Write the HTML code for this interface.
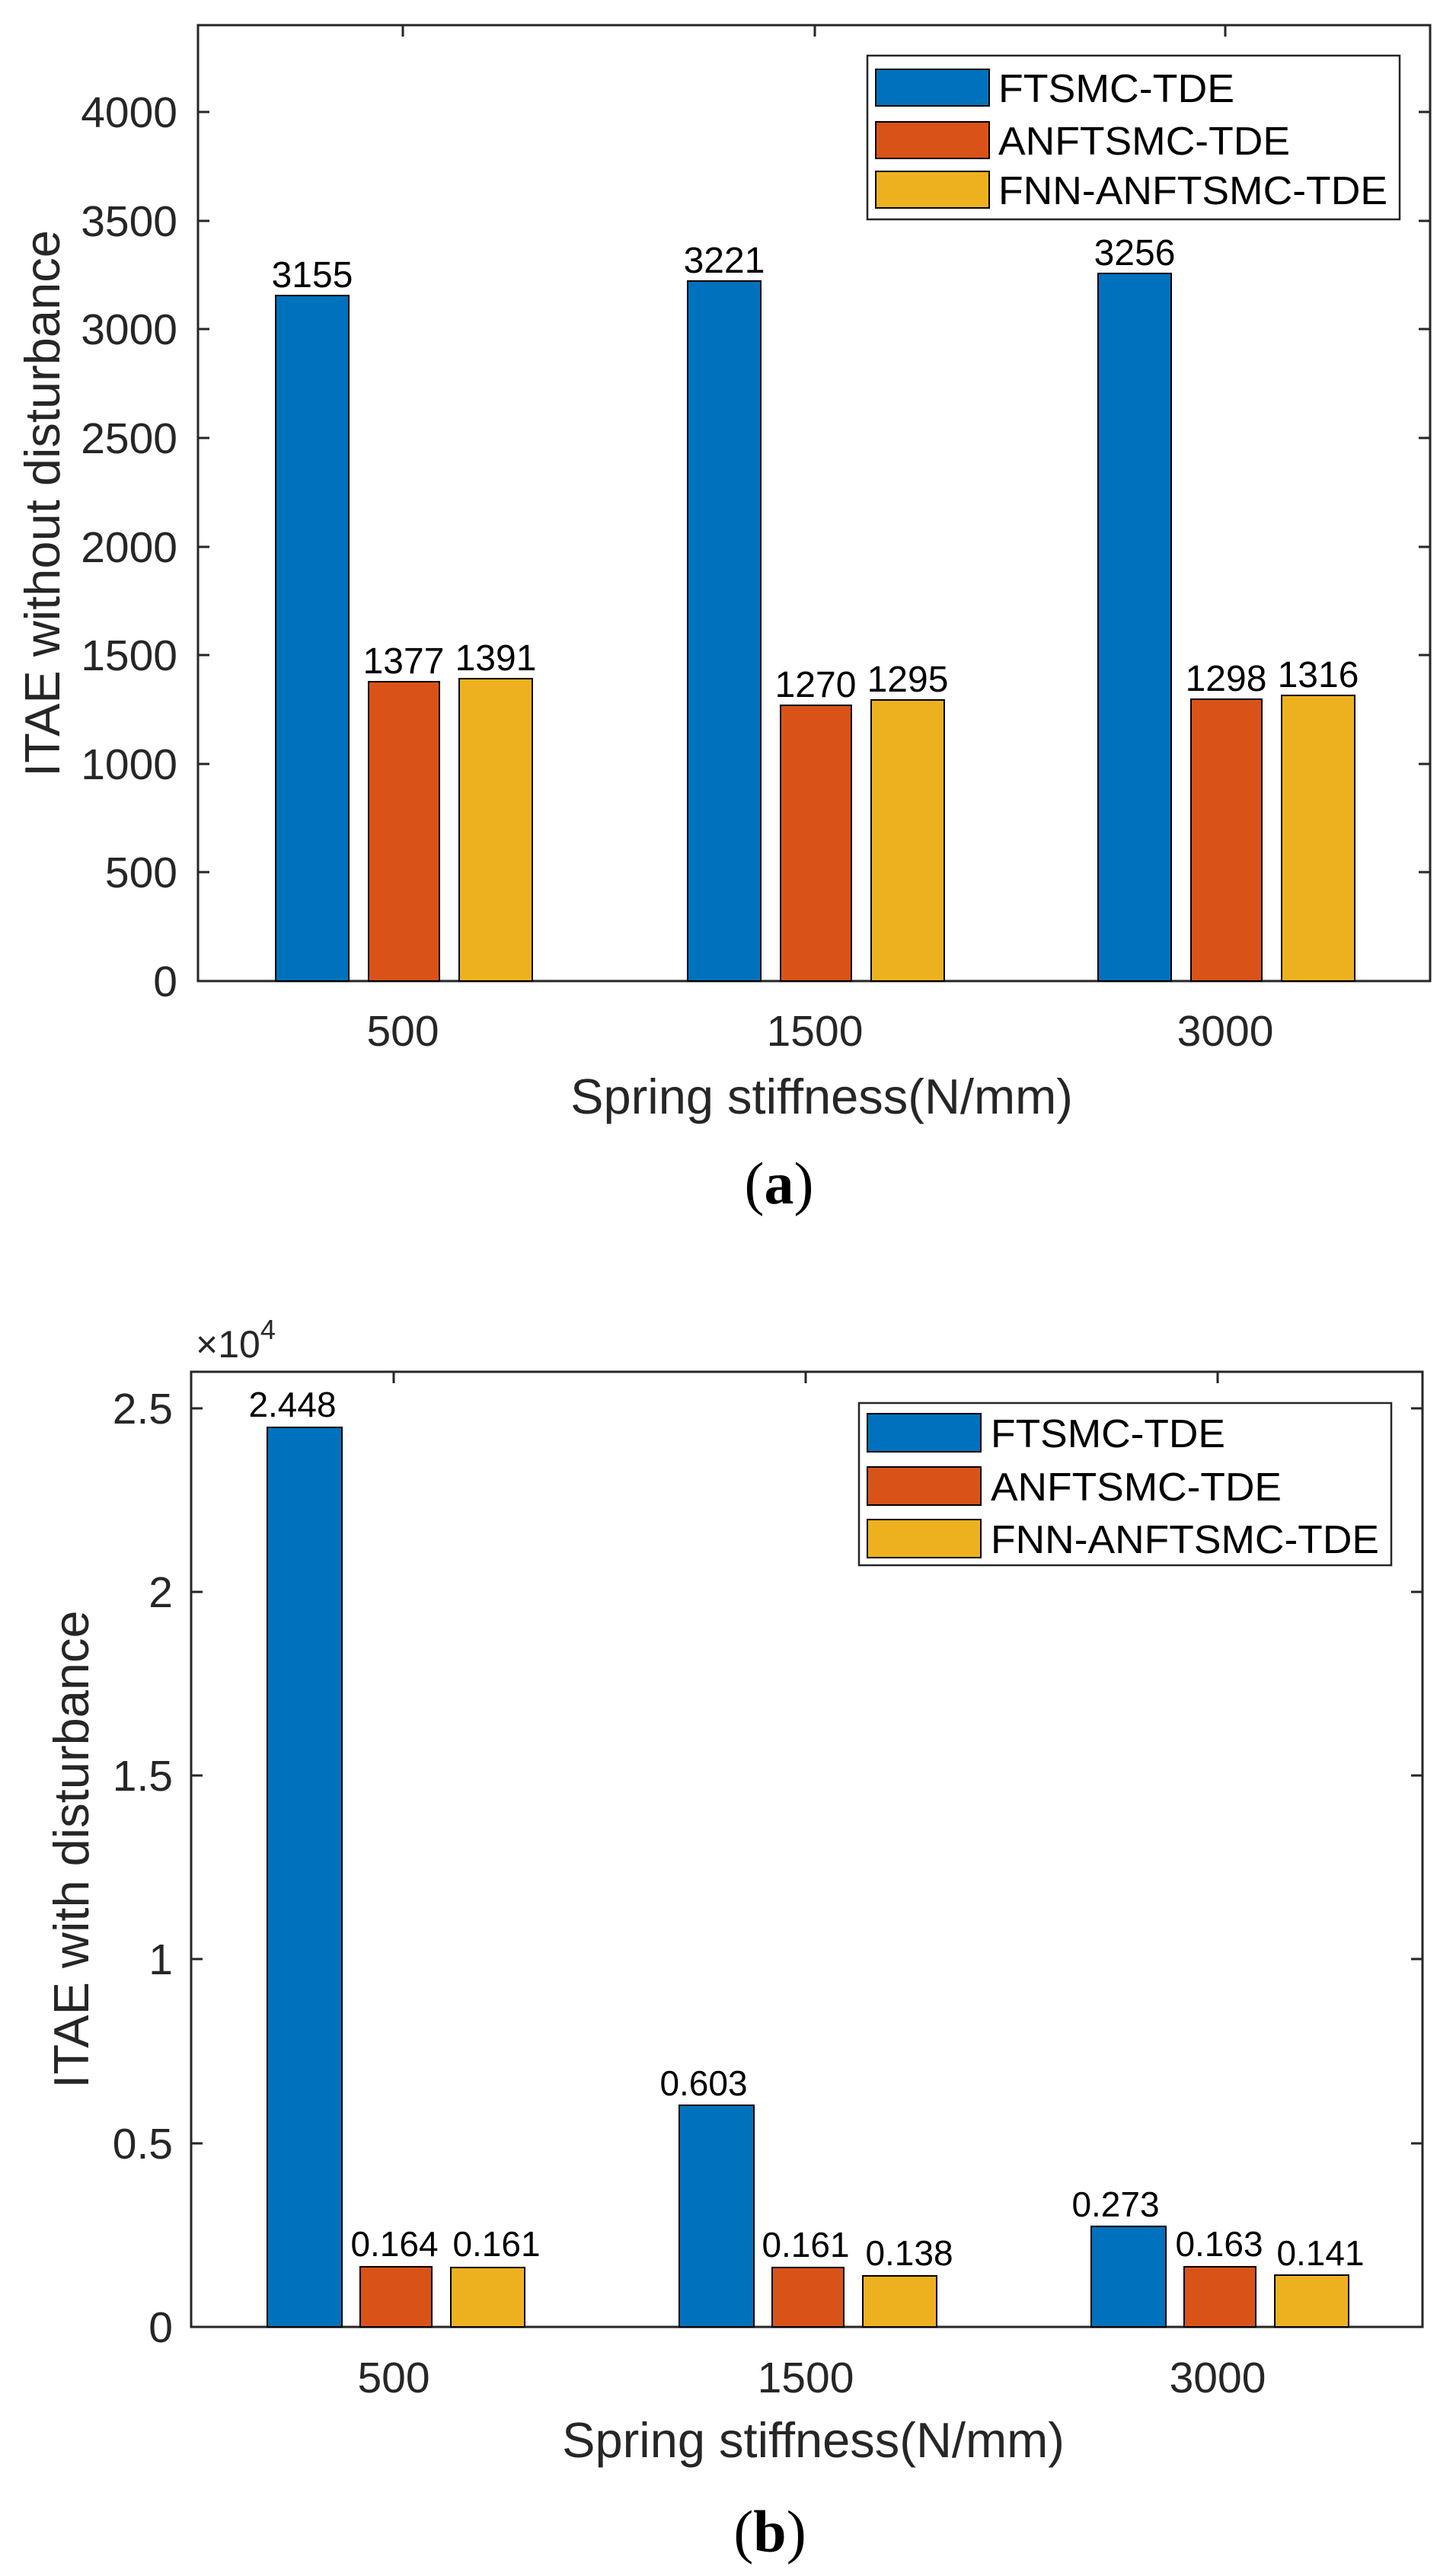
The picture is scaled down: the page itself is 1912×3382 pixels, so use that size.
<!DOCTYPE html>
<html><head><meta charset="utf-8"><style>
html,body{margin:0;padding:0;background:#fff;}
svg{display:block;font-family:"Liberation Sans",Arial,sans-serif;}
</style></head><body>
<svg width="1912" height="3382" viewBox="0 0 1912 3382" xmlns="http://www.w3.org/2000/svg">
<rect width="1912" height="3382" fill="#fff"/>
<!-- ===== (a) ===== -->
<g stroke="#262626" stroke-width="3" fill="none">
<rect x="260" y="33" width="1618" height="1255"/>
<path d="M260 1288h15M260 1145h15M260 1003h15M260 860h15M260 718h15M260 575h15M260 432h15M260 290h15M260 147h15
M1878 1288h-15M1878 1145h-15M1878 1003h-15M1878 860h-15M1878 718h-15M1878 575h-15M1878 432h-15M1878 290h-15M1878 147h-15
M529 1288v-15M1070 1288v-15M1609 1288v-15M529 33v15M1070 33v15M1609 33v15"/>
</g>
<g stroke="#000" stroke-width="2">
<rect x="362" y="388" width="96" height="900" fill="#0072BD"/>
<rect x="484" y="895" width="93" height="393" fill="#D95319"/>
<rect x="603" y="891" width="96" height="397" fill="#EDB120"/>
<rect x="903" y="369" width="96" height="919" fill="#0072BD"/>
<rect x="1025" y="926" width="93" height="362" fill="#D95319"/>
<rect x="1144" y="919" width="96" height="369" fill="#EDB120"/>
<rect x="1442" y="359" width="96" height="929" fill="#0072BD"/>
<rect x="1564" y="918" width="93" height="370" fill="#D95319"/>
<rect x="1683" y="913" width="96" height="375" fill="#EDB120"/>
</g>
<g font-size="48" fill="#000" text-anchor="middle">
<text x="410" y="377">3155</text>
<text x="530" y="884">1377</text>
<text x="651" y="880">1391</text>
<text x="951" y="358">3221</text>
<text x="1071" y="915">1270</text>
<text x="1192" y="908">1295</text>
<text x="1490" y="348">3256</text>
<text x="1610" y="907">1298</text>
<text x="1731" y="902">1316</text>
</g>
<g font-size="57" fill="#262626" text-anchor="end">
<text x="233" y="1308">0</text>
<text x="233" y="1165">500</text>
<text x="233" y="1023">1000</text>
<text x="233" y="880">1500</text>
<text x="233" y="738">2000</text>
<text x="233" y="595">2500</text>
<text x="233" y="452">3000</text>
<text x="233" y="310">3500</text>
<text x="233" y="167">4000</text>
</g>
<g font-size="57" fill="#262626" text-anchor="middle">
<text x="529" y="1373">500</text>
<text x="1070" y="1373">1500</text>
<text x="1609" y="1373">3000</text>
</g>
<g font-size="65" fill="#262626" text-anchor="middle">
<text x="1079" y="1462">Spring stiffness(N/mm)</text>
<text transform="translate(78,661) rotate(-90)">ITAE without disturbance</text>
</g>
<text x="1023" y="1580" font-family="Liberation Serif,serif" font-size="78" text-anchor="middle" fill="#000">(<tspan font-weight="bold">a</tspan>)</text>
<!-- legend a -->
<rect x="1139" y="73" width="699" height="215" fill="#fff" stroke="#262626" stroke-width="2.5"/>
<g stroke="#000" stroke-width="2">
<rect x="1150" y="91" width="149" height="48" fill="#0072BD"/>
<rect x="1150" y="160" width="149" height="48" fill="#D95319"/>
<rect x="1150" y="225" width="149" height="48" fill="#EDB120"/>
</g>
<g font-size="52" fill="#000">
<text x="1311" y="134" textLength="310" lengthAdjust="spacingAndGlyphs">FTSMC-TDE</text>
<text x="1311" y="203" textLength="383" lengthAdjust="spacingAndGlyphs">ANFTSMC-TDE</text>
<text x="1311" y="268" textLength="511" lengthAdjust="spacingAndGlyphs">FNN-ANFTSMC-TDE</text>
</g>
<!-- ===== (b) ===== -->
<g stroke="#262626" stroke-width="3" fill="none">
<rect x="251" y="1801" width="1617" height="1254"/>
<path d="M251 3055h15M251 2814h15M251 2572h15M251 2331h15M251 2090h15M251 1849h15
M1868 3055h-15M1868 2814h-15M1868 2572h-15M1868 2331h-15M1868 2090h-15M1868 1849h-15
M517 3055v-15M1058 3055v-15M1599 3055v-15M517 1801v15M1058 1801v15M1599 1801v15"/>
</g>
<g stroke="#000" stroke-width="2">
<rect x="351" y="1874" width="98" height="1181" fill="#0072BD"/>
<rect x="473" y="2976" width="94" height="79" fill="#D95319"/>
<rect x="592" y="2977" width="97" height="78" fill="#EDB120"/>
<rect x="892" y="2764" width="98" height="291" fill="#0072BD"/>
<rect x="1014" y="2977" width="94" height="78" fill="#D95319"/>
<rect x="1133" y="2988" width="97" height="67" fill="#EDB120"/>
<rect x="1433" y="2923" width="98" height="132" fill="#0072BD"/>
<rect x="1555" y="2976" width="94" height="79" fill="#D95319"/>
<rect x="1674" y="2987" width="97" height="68" fill="#EDB120"/>
</g>
<g font-size="46" fill="#000" text-anchor="middle">
<text x="384" y="1860">2.448</text>
<text x="518" y="2962">0.164</text>
<text x="652" y="2962">0.161</text>
<text x="924" y="2751">0.603</text>
<text x="1058" y="2963">0.161</text>
<text x="1194" y="2974">0.138</text>
<text x="1465" y="2910">0.273</text>
<text x="1601" y="2962">0.163</text>
<text x="1734" y="2974">0.141</text>
</g>
<g font-size="57" fill="#262626" text-anchor="end">
<text x="227" y="3075">0</text>
<text x="227" y="2834">0.5</text>
<text x="227" y="2592">1</text>
<text x="227" y="2351">1.5</text>
<text x="227" y="2110">2</text>
<text x="227" y="1869">2.5</text>
</g>
<text x="257" y="1782" font-size="50" fill="#262626">×10<tspan font-size="36" dy="-24">4</tspan></text>
<g font-size="57" fill="#262626" text-anchor="middle">
<text x="517" y="3141">500</text>
<text x="1058" y="3141">1500</text>
<text x="1599" y="3141">3000</text>
</g>
<g font-size="65" fill="#262626" text-anchor="middle">
<text x="1068" y="3226">Spring stiffness(N/mm)</text>
<text transform="translate(116,2428) rotate(-90)">ITAE with disturbance</text>
</g>
<text x="1011" y="3350" font-family="Liberation Serif,serif" font-size="78" text-anchor="middle" fill="#000">(<tspan font-weight="bold">b</tspan>)</text>
<!-- legend b -->
<rect x="1128" y="1842" width="699" height="213" fill="#fff" stroke="#262626" stroke-width="2.5"/>
<g stroke="#000" stroke-width="2">
<rect x="1139" y="1856" width="149" height="50" fill="#0072BD"/>
<rect x="1139" y="1926" width="149" height="50" fill="#D95319"/>
<rect x="1139" y="1995" width="149" height="50" fill="#EDB120"/>
</g>
<g font-size="52" fill="#000">
<text x="1301" y="1900" textLength="308" lengthAdjust="spacingAndGlyphs">FTSMC-TDE</text>
<text x="1301" y="1970" textLength="382" lengthAdjust="spacingAndGlyphs">ANFTSMC-TDE</text>
<text x="1301" y="2039" textLength="510" lengthAdjust="spacingAndGlyphs">FNN-ANFTSMC-TDE</text>
</g>
</svg>
</body></html>
